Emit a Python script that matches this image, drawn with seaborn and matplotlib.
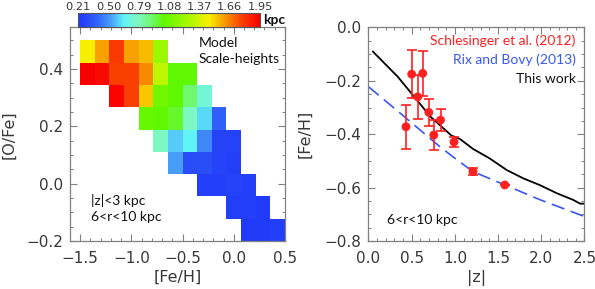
import numpy as np
import matplotlib
matplotlib.use('Agg')
import matplotlib.pyplot as plt
from matplotlib.colors import LinearSegmentedColormap
from matplotlib.ticker import MultipleLocator, FixedLocator
import seaborn as sns

sns.set_style('ticks')
plt.rcParams['font.family'] = ['DejaVu Sans']
ann_font = ['Lato', 'DejaVu Sans']

# ---- left panel: model scale-heights on the [Fe/H]-[O/Fe] grid ----
feh_edges = np.linspace(-1.5, 0.5, 15)
ofe_edges = np.linspace(-0.2, 0.5, 10)
feh_centers = 0.5 * (feh_edges[1:] + feh_edges[:-1])
ofe_centers = 0.5 * (ofe_edges[1:] + ofe_edges[:-1])

# one list per [O/Fe] row, from top to bottom; first filled [Fe/H] column of each row
row_first_col = [0, 0, 2, 4, 5, 6, 8, 10, 11]
row_heights = [
    [1.46, 1.60, 1.79, 1.60, 1.55, 1.22],
    [1.95, 1.92, 1.78, 1.78, 1.64, 1.32, 1.03, 1.03],
    [1.93, 1.78, 1.53, 1.08, 1.03, 0.91, 0.73],
    [1.05, 1.03, 0.98, 0.78, 0.61, 0.38],
    [0.78, 0.59, 0.645, 0.47, 0.26, 0.26],
    [0.52, 0.30, 0.31, 0.26, 0.25],
    [0.25, 0.25, 0.26, 0.25],
    [0.24, 0.25, 0.23],
    [0.22, 0.23, 0.24],
]
cbar_ticks = [0.21, 0.50, 0.79, 1.08, 1.37, 1.66, 1.95]

# ---- right panel: [Fe/H] vs |z| ----
z_schl = [0.434, 0.50, 0.57, 0.628, 0.698, 0.756, 0.834, 0.99, 1.21, 1.578]
fe_schl = [-0.372, -0.175, -0.26, -0.172, -0.318, -0.403, -0.347, -0.429, -0.54, -0.59]
err_schl = [0.082, 0.09, 0.083, 0.084, 0.05, 0.057, 0.042, 0.02, 0.012, 0.0]

z_rix = [0.0, 0.4, 0.82, 1.0, 1.21, 1.58, 1.99, 2.5]
fe_rix = [-0.222, -0.33, -0.445, -0.49, -0.54, -0.59, -0.646, -0.708]

z_this = [0.05, 0.34, 0.53, 0.72, 0.96, 1.06, 1.21, 1.40, 1.60, 1.79, 1.98, 2.18, 2.37, 2.45, 2.50]
fe_this = [-0.09, -0.185, -0.26, -0.335, -0.405, -0.418, -0.455, -0.49, -0.534, -0.565,
           -0.59, -0.621, -0.646, -0.66, -0.66]

# build long arrays for histplot
ofe_rows = ofe_centers[::-1]
cell_feh, cell_ofe, cell_h = [], [], []
for r, vals in enumerate(row_heights):
    for k, v in enumerate(vals):
        cell_feh.append(feh_centers[row_first_col[r] + k])
        cell_ofe.append(ofe_rows[r])
        cell_h.append(v)

cmap = LinearSegmentedColormap.from_list('scaleh', [
    (0.00, '#2038f8'), (0.10, '#3060f8'), (0.18, '#48a0f8'), (0.25, '#60f4f8'),
    (0.33, '#80f8c0'), (0.40, '#70f870'), (0.47, '#60f800'), (0.62, '#b0f800'),
    (0.72, '#f8f000'), (0.80, '#f8a000'), (0.90, '#f84000'), (1.00, '#f80000')])

grey = '#808080'
txt = '#383838'
red = '#ff2020'
blue = '#3858f0'

fig = plt.figure(figsize=(5.95, 2.89), dpi=100)
ax1 = fig.add_axes([0.1176, 0.166, 0.3613, 0.739])
ax2 = fig.add_axes([0.6193, 0.166, 0.363, 0.739])
cax = fig.add_axes([0.1316, 0.908, 0.3054, 0.046])

sns.histplot(x=cell_feh, y=cell_ofe, weights=cell_h, bins=[feh_edges, ofe_edges],
             cmap=cmap, vmin=0.21, vmax=1.95, cbar=True, cbar_ax=cax,
             cbar_kws=dict(orientation='horizontal', ticks=cbar_ticks), ax=ax1)
ax1.set_xlim(-1.6, 0.5)
ax1.set_ylim(-0.2, 0.545)
ax1.xaxis.set_major_locator(MultipleLocator(0.5))
ax1.xaxis.set_minor_locator(MultipleLocator(0.1))
ax1.yaxis.set_major_locator(MultipleLocator(0.2))
ax1.yaxis.set_minor_locator(MultipleLocator(0.05))
ax1.set_xlabel('[Fe/H]', fontsize=11.5, color=txt, labelpad=3)
ax1.set_ylabel('[O/Fe]', fontsize=11.5, color=txt, labelpad=7)
for x, y, s in [(0.60, 0.927, 'Model'), (0.60, 0.852, 'Scale-heights'),
                (0.10, 0.192, '|z|<3 kpc'), (0.10, 0.111, '6<r<10 kpc')]:
    ax1.text(x, y, s, transform=ax1.transAxes, fontsize=10, va='center',
             color='#111111', family=ann_font)

# colorbar cosmetics
cax.xaxis.set_ticks_position('top')
cax.xaxis.set_label_position('top')
cax.set_xticklabels([f'{t:.2f}' for t in cbar_ticks])
cax.xaxis.set_minor_locator(FixedLocator([t + 0.145 for t in cbar_ticks[:-1]]))
cax.tick_params(axis='x', which='both', direction='in', top=True, bottom=True,
                labelsize=8.2, pad=1, colors='#222222', labelcolor=txt)
cax.tick_params(axis='x', which='major', length=3, width=0.6)
cax.tick_params(axis='x', which='minor', length=2, width=0.6)
for s in cax.spines.values():
    s.set_edgecolor('#555555')
    s.set_linewidth(0.8)
fig.text(0.443, 0.931, 'kpc', fontsize=10, va='center', ha='left', color='#111111',
         family=ann_font, weight='bold')

# right panel
sns.lineplot(x=z_this, y=fe_this, color='black', lw=1.3, ax=ax2)
sns.lineplot(x=z_rix, y=fe_rix, color=blue, lw=1.2, linestyle=(0, (8, 4)), ax=ax2)
ax2.errorbar(z_schl, fe_schl, yerr=err_schl, fmt='none', ecolor=red, elinewidth=1.2,
             capsize=3.8, capthick=1.2, zorder=3)
sns.scatterplot(x=z_schl, y=fe_schl, color=red, s=40, edgecolor='none', zorder=4, ax=ax2)
ax2.set_xlim(0, 2.5)
ax2.set_ylim(-0.8, 0.0)
ax2.xaxis.set_major_locator(MultipleLocator(0.5))
ax2.xaxis.set_minor_locator(MultipleLocator(0.1))
ax2.yaxis.set_major_locator(MultipleLocator(0.2))
ax2.yaxis.set_minor_locator(MultipleLocator(0.05))
ax2.set_xlabel('|z|', fontsize=11.5, color=txt, labelpad=3)
ax2.set_ylabel('[Fe/H]', fontsize=11.5, color=txt, labelpad=9)
for y, s, c in [(0.94, 'Schlesinger et al. (2012)', red), (0.848, 'Rix and Bovy (2013)', blue),
                (0.758, 'This work', '#111111')]:
    ax2.text(0.96, y, s, transform=ax2.transAxes, fontsize=10, ha='right', va='center',
             color=c, family=ann_font)
ax2.text(0.084, 0.098, '6<r<10 kpc', transform=ax2.transAxes, fontsize=10,
         ha='left', va='center', color='#111111', family=ann_font)

for ax in (ax1, ax2):
    ax.tick_params(which='both', direction='in', top=True, right=True, colors=grey,
                   labelcolor=txt, labelsize=11)
    ax.tick_params(which='major', length=5, width=0.8)
    ax.tick_params(which='minor', length=2.5, width=0.7)
    ax.tick_params(axis='x', which='both', pad=7)
    ax.tick_params(axis='y', which='both', pad=5)
    for s in ax.spines.values():
        s.set_edgecolor(grey)
        s.set_linewidth(0.9)

fig.savefig('out.png', dpi=100)
